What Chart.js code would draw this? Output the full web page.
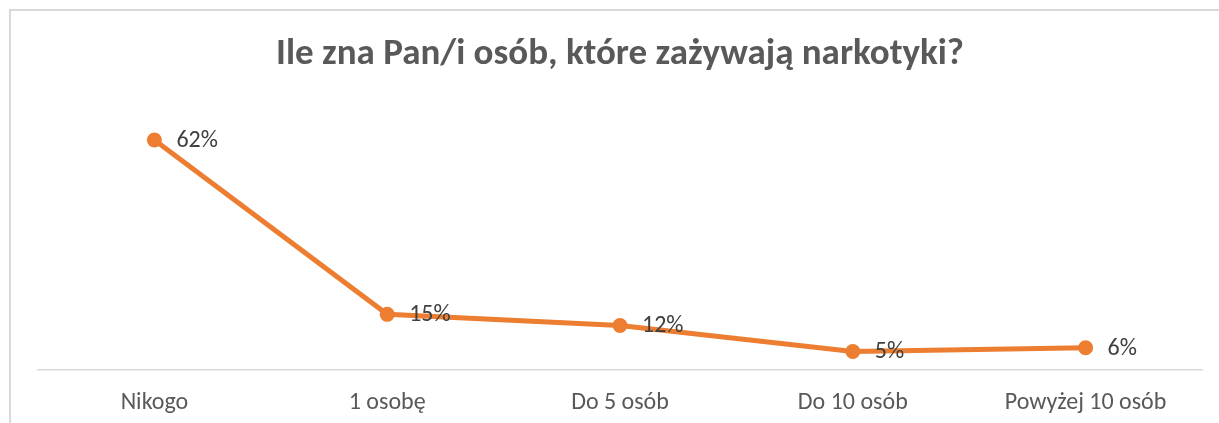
<!DOCTYPE html>
<html lang="pl">
<head>
    <meta charset="UTF-8">
    <title>Ile zna Pan/i osób</title>
    <script src="https://cdn.jsdelivr.net/npm/chart.js"></script>
    <style>
        html, body { margin: 0; padding: 0; background: #fff; overflow: hidden; }
        #frame { position: absolute; left: 9px; top: 9px; width: 1400px; height: 600px; border: 2px solid #d9d9d9; box-sizing: border-box; }
        #wrap { position: absolute; left: 0; top: 0; width: 1219px; height: 436px; }
    </style>
</head>
<body>
    <div id="frame"></div>
    <div id="wrap"><canvas id="chart" width="1219" height="436"></canvas></div>
    <script>
        var categories = ['Nikogo', '1 osobę', 'Do 5 osób', 'Do 10 osób', 'Powyżej 10 osób'];
        var values = [62, 15, 12, 5, 6];
        var chartTitle = 'Ile zna Pan/i osób, które zażywają narkotyki?';
        var fontName = 'Carlito, Lato, "Open Sans", sans-serif';

        // labels "62%" etc. drawn to the right of each point
        var valueLabels = {
            id: 'valueLabels',
            afterDatasetsDraw: function (chart) {
                var ctx = chart.ctx;
                var meta = chart.getDatasetMeta(0);
                ctx.save();
                ctx.font = '24px ' + fontName;
                ctx.fillStyle = '#404040';
                ctx.textAlign = 'left';
                ctx.textBaseline = 'middle';
                meta.data.forEach(function (pt, i) {
                    ctx.fillText(values[i] + '%', pt.x + 22, pt.y + 1);
                });
                ctx.restore();
            }
        };

        const ctx = document.getElementById('chart').getContext('2d');
        const chart = new Chart(ctx, {
            type: 'line',
            data: {
                labels: categories,
                datasets: [{
                    data: values,
                    borderColor: '#ED7D31',
                    backgroundColor: '#ED7D31',
                    borderWidth: 5,
                    pointRadius: 7.5,
                    pointHoverRadius: 7.5,
                    pointBorderWidth: 0,
                    tension: 0,
                    fill: false
                }]
            },
            options: {
                responsive: false,
                animation: false,
                layout: { padding: { left: 38, right: 17, top: 0, bottom: 0 } },
                plugins: {
                    legend: { display: false },
                    tooltip: { enabled: false },
                    title: {
                        display: true,
                        text: chartTitle,
                        color: '#595959',
                        font: { family: fontName, size: 37, weight: 'bold' },
                        padding: { top: 33, bottom: 33 }
                    }
                },
                scales: {
                    x: {
                        offset: true,
                        grid: { display: false, drawTicks: false },
                        border: { display: true, color: '#d9d9d9', width: 1.5 },
                        ticks: {
                            color: '#595959',
                            font: { family: fontName, size: 24 },
                            padding: 18.6,
                            maxRotation: 0,
                            autoSkip: false
                        }
                    },
                    y: {
                        display: false,
                        min: 0,
                        max: 70
                    }
                }
            },
            plugins: [valueLabels]
        });
    </script>
</body>
</html>
